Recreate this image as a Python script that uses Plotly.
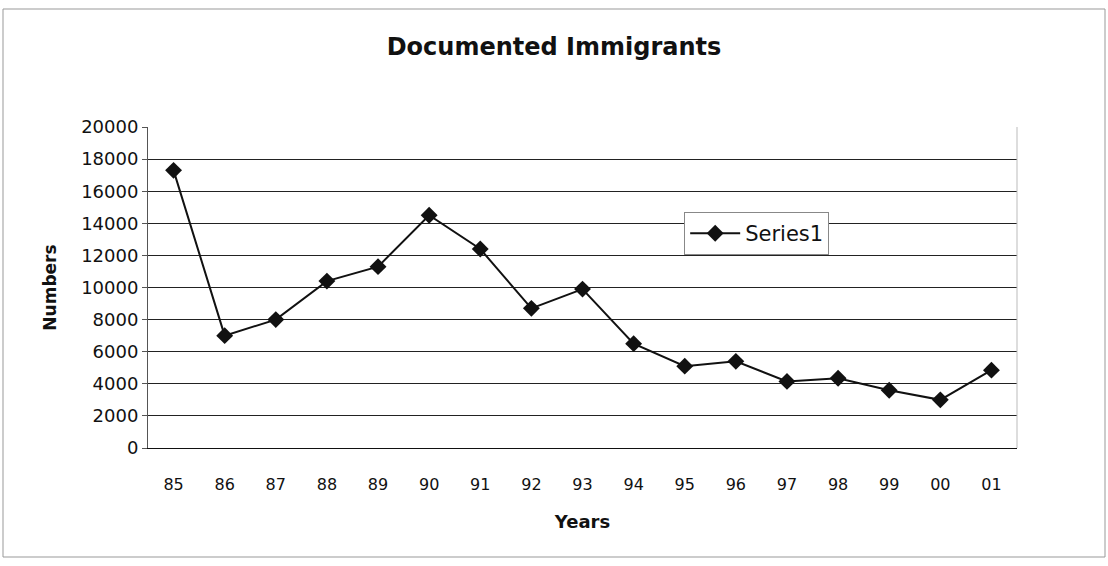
import plotly.graph_objects as go

years = ["85", "86", "87", "88", "89", "90", "91", "92", "93", "94", "95", "96", "97", "98", "99", "00", "01"]
values = [17300, 7000, 8000, 10400, 11300, 14500, 12400, 8700, 9900, 6500, 5100, 5400, 4150, 4350, 3600, 3000, 4850]
y_ticks = [0, 2000, 4000, 6000, 8000, 10000, 12000, 14000, 16000, 18000, 20000]
y_tick_text = [str(v) for v in y_ticks]

font_family = "DejaVu Sans, Arial, sans-serif"

fig = go.Figure()
fig.add_trace(go.Scatter(
    x=years, y=values, name="Series1", mode="lines+markers",
    line=dict(color="#111111", width=2),
    marker=dict(symbol="diamond", size=13, color="#111111"),
))

fig.update_layout(
    width=1108, height=566,
    margin=dict(l=148, r=91, t=127, b=118),
    paper_bgcolor="white", plot_bgcolor="white",
    font=dict(family=font_family, color="#111111", size=17),
    title=dict(text="<b>Documented Immigrants</b>", x=0.5, xanchor="center",
               y=1 - 47 / 566, yanchor="middle", font=dict(size=24)),
    showlegend=True,
    legend=dict(x=0.617, y=0.735, xanchor="left", yanchor="top",
                bordercolor="#888888", borderwidth=1, bgcolor="white",
                font=dict(size=21), itemwidth=50),
    xaxis=dict(
        type="category", showgrid=False, showline=True, linecolor="#111111", linewidth=1,
        ticks="", tickfont=dict(size=16), ticklabelstandoff=22,
        title=dict(text="<b>Years</b>", font=dict(size=18), standoff=22),
        range=[-0.5, len(years) - 0.5], mirror=False,
    ),
    yaxis=dict(
        range=[0, 20000], tickvals=y_ticks, ticktext=y_tick_text,
        showgrid=True, gridcolor="#222222", gridwidth=1,
        showline=True, linecolor="#555555", linewidth=1, ticks="outside", ticklen=5,
        tickcolor="#555555", tickfont=dict(size=18), zeroline=False,
        title=dict(text="<b>Numbers</b>", font=dict(size=17), standoff=20),
    ),
    shapes=[
        dict(type="rect", xref="paper", yref="paper", x0=1, x1=1, y0=0, y1=1,
             line=dict(color="#bbbbbb", width=1, dash="dot")),
        dict(type="rect", xref="paper", yref="paper",
             x0=(3 - 148) / 869, x1=(1105 - 148) / 869,
             y0=-(557 - 448) / 321, y1=(448 - 9) / 321,
             line=dict(color="#999999", width=1)),
    ],
)

fig.write_html("out.html")
